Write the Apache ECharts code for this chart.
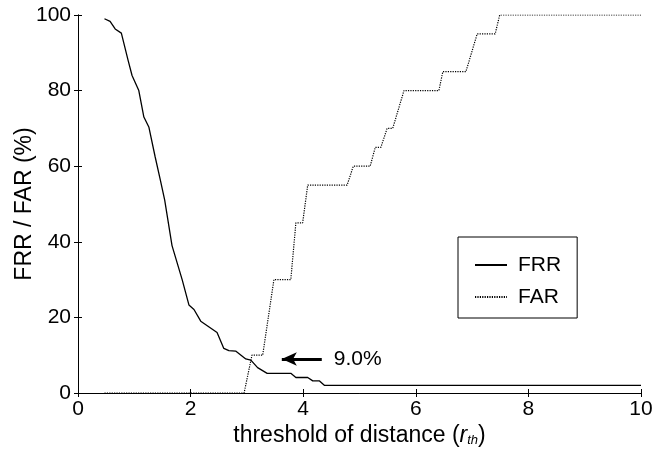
<!DOCTYPE html>
<html>
<head>
<meta charset="utf-8">
<script src="https://cdn.jsdelivr.net/npm/echarts@6/dist/echarts.min.js"></script>
<style>
  html, body, #main { width: 659px; height: 454px; margin: 0; background: #fff; }
</style>
</head>
<body>
<div id="main"></div>
<script>
// FRR curve (threshold, %)
var frrX = [0.47, 0.57, 0.66, 0.77, 0.89, 0.96, 1.08, 1.17, 1.26, 1.37, 1.46, 1.54, 1.67, 1.85, 1.97, 2.06, 2.18, 2.47, 2.59, 2.68, 2.8, 2.98, 3.07, 3.19, 3.36, 3.78, 3.87, 4.08, 4.17, 4.29, 4.38, 10];
var frrY = [99, 98.3, 96.3, 95.2, 88, 84, 80, 73, 70.3, 62.5, 56.5, 51, 39, 30, 23.3, 22.1, 19, 16, 11.8, 11.2, 11.1, 9, 8.7, 6.7, 5.2, 5.2, 4.1, 4.1, 3.2, 3.2, 2, 2];
// FAR curve
var farX = [0.47, 2.95, 3.09, 3.28, 3.48, 3.78, 3.87, 3.99, 4.08, 4.78, 4.89, 5.19, 5.28, 5.38, 5.49, 5.59, 5.79, 6.41, 6.48, 6.89, 7.09, 7.41, 7.49, 10];
var farY = [0, 0, 10, 10, 30, 30, 45, 45, 55, 55, 60, 60, 65, 65, 70, 70, 80, 80, 85, 85, 95, 95, 100, 100];
var xTicks = [0, 2, 4, 6, 8, 10];
var yTicks = [0, 20, 40, 60, 80, 100];
var eerLabel = '9.0%';
var arrowFrom = [4.33, 9];
var arrowTo = [3.62, 9];

function pairs(xs, ys) {
  return xs.map(function (x, i) { return [x, ys[i]]; });
}

var font = 'Liberation Sans, Arial, sans-serif';
var chart = echarts.init(document.getElementById('main'));

var axisCommon = {
  type: 'value',
  axisLine: { show: true, lineStyle: { color: '#000', width: 1 } },
  axisTick: { show: true, inside: true, length: 4, lineStyle: { color: '#000' } },
  splitLine: { show: false }
};

chart.setOption({
  animation: false,
  backgroundColor: '#fff',
  grid: { left: 78, right: 18, top: 15, bottom: 61, outerBoundsMode: 'none' },
  legend: {
    orient: 'vertical',
    left: 458,
    top: 237,
    backgroundColor: '#fff',
    borderColor: '#000',
    borderWidth: 1,
    borderRadius: 0,
    padding: [17, 16, 10, 16],
    itemWidth: 32,
    itemHeight: 14,
    itemGap: 10,
    itemStyle: { opacity: 0 },
    textStyle: { fontFamily: font, fontSize: 21, color: '#000', lineHeight: 22, padding: [0, 0, 0, 6] },
    data: ['FRR', 'FAR']
  },
  xAxis: [
    Object.assign({}, axisCommon, {
      min: 0, max: 10, interval: 2,
      name: 'threshold of distance ({i|r}{s|th})',
      nameLocation: 'middle',
      nameGap: 31,
      nameMoveOverlap: false,
      nameTextStyle: {
        fontFamily: font, fontSize: 23, color: '#000',
        rich: {
          i: { fontFamily: font, fontSize: 23, fontStyle: 'italic', color: '#000' },
          s: { fontFamily: font, fontSize: 13, fontStyle: 'italic', color: '#000', verticalAlign: 'bottom', padding: [10, 0, 0, 0] }
        }
      },
      axisLabel: {
        fontFamily: font, fontSize: 21, color: '#000', margin: 6,
        formatter: function (v) { return xTicks.indexOf(v) >= 0 ? String(v) : ''; }
      }
    }),
    Object.assign({}, axisCommon, {
      position: 'top', min: 0, max: 10, interval: 2,
      axisLabel: { show: false }
    })
  ],
  yAxis: [
    Object.assign({}, axisCommon, {
      min: 0, max: 100, interval: 20,
      name: 'FRR / FAR (%)',
      nameLocation: 'middle',
      nameGap: 42,
      nameMoveOverlap: false,
      nameTextStyle: { fontFamily: font, fontSize: 23, color: '#000' },
      axisLabel: {
        fontFamily: font, fontSize: 21, color: '#000', margin: 7,
        formatter: function (v) { return yTicks.indexOf(v) >= 0 ? String(v) : ''; }
      }
    }),
    Object.assign({}, axisCommon, {
      position: 'right', min: 0, max: 100, interval: 20,
      axisLabel: { show: false }
    })
  ],
  series: [
    {
      name: 'FRR',
      type: 'line',
      data: pairs(frrX, frrY),
      symbol: 'none',
      lineStyle: { color: '#000', width: 1.3 },
      itemStyle: { color: '#000' },
      silent: true,
      markLine: {
        silent: true,
        symbol: ['none', 'arrow'],
        symbolSize: [10, 15],
        lineStyle: { color: '#000', width: 3, type: 'solid' },
        label: {
          show: true,
          position: 'start',
          distance: 12,
          formatter: eerLabel,
          fontFamily: font, fontSize: 21, color: '#000'
        },
        data: [[{ coord: arrowFrom }, { coord: arrowTo }]]
      }
    },
    {
      name: 'FAR',
      type: 'line',
      data: pairs(farX, farY),
      symbol: 'none',
      lineStyle: { color: '#000', width: 1.2, type: [1.2, 1.2] },
      itemStyle: { color: '#000' },
      silent: true
    }
  ]
});
</script>
</body>
</html>
